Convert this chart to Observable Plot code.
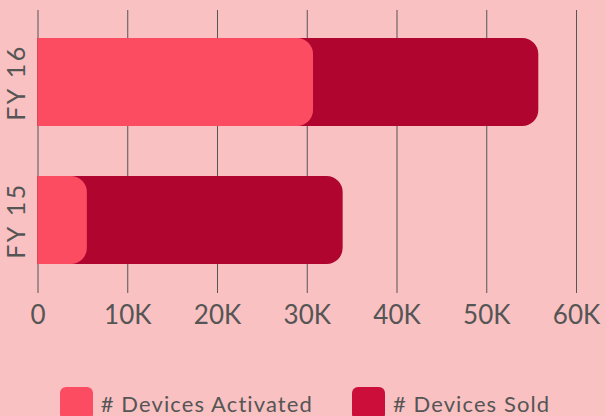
<!DOCTYPE html>
<html>
<head>
<meta charset="utf-8">
<script src="https://cdn.jsdelivr.net/npm/d3@7"></script>
<script src="https://cdn.jsdelivr.net/npm/@observablehq/plot@0.6"></script>
<style>
  html, body { margin: 0; padding: 0; background: #f9c1c2; overflow: hidden; }
  body { width: 606px; height: 416px; font-family: Lato, "Open Sans", sans-serif; }
  #legend { display: flex; justify-content: center; align-items: flex-start; gap: 39px; margin-top: 37px; margin-left: 4px; }
  .item { display: flex; align-items: flex-start; gap: 8px; color: #555; font-size: 22px; letter-spacing: 1.1px; }
  .sw { width: 33px; height: 33px; border-radius: 6px; }
  .lbl { line-height: 1; margin-top: 6px; }
</style>
</head>
<body>
<div id="chart"></div>
<div id="legend"></div>
<script>
const categories = ["FY 16", "FY 15"];
const devicesActivated = [30700, 5500];
const devicesSold = [55800, 34000];
const xTicks = [0, 10000, 20000, 30000, 40000, 50000, 60000];
const seriesNames = ["# Devices Activated", "# Devices Sold"];
const barColors = ["#fc4c62", "#b0052f"];
const swatchColors = ["#fc4c62", "#cc0e3a"];

const sold = categories.map((c, i) => ({cat: c, value: devicesSold[i]}));
const activated = categories.map((c, i) => ({cat: c, value: devicesActivated[i]}));
const fmt = d => d === 0 ? "0" : (d / 1000) + "K";

const chart = Plot.plot({
  width: 606,
  height: 350,
  marginTop: 10,
  marginBottom: 57,
  marginLeft: 37.5,
  marginRight: 30,
  style: {background: "transparent", fontFamily: "Lato, 'Open Sans', sans-serif"},
  x: {domain: [0, 60000], ticks: xTicks, tickFormat: fmt},
  y: {domain: categories, paddingInner: 0.36, paddingOuter: 0.2, axis: null},
  marks: [
    Plot.gridX(xTicks, {stroke: "#555", strokeOpacity: 1, strokeWidth: 1}),
    Plot.barX(sold, {x: "value", y: "cat", fill: barColors[1], rx: 16, insetLeft: -30, clip: true}),
    Plot.barX(activated, {x: "value", y: "cat", fill: barColors[0], rx: 16, insetLeft: -30, clip: true}),
    Plot.axisX(xTicks, {tickSize: 0, tickPadding: 12, tickFormat: fmt, fontSize: 26, fill: "#555", label: null}),
    Plot.text(categories, {y: d => d, text: d => d, frameAnchor: "left", dx: -21.5, rotate: -90, fontSize: 25, fill: "#555", textAnchor: "middle", lineAnchor: "middle", className: "ylab"})
  ]
});
d3.select(chart).selectAll(".ylab text").style("letter-spacing", "2.5px");
document.getElementById("chart").appendChild(chart);

const legend = document.getElementById("legend");
seriesNames.forEach((name, i) => {
  const item = document.createElement("div");
  item.className = "item";
  const sw = document.createElement("div");
  sw.className = "sw";
  sw.style.background = swatchColors[i];
  const lbl = document.createElement("span");
  lbl.className = "lbl";
  lbl.textContent = name;
  item.appendChild(sw);
  item.appendChild(lbl);
  legend.appendChild(item);
});
</script>
</body>
</html>
